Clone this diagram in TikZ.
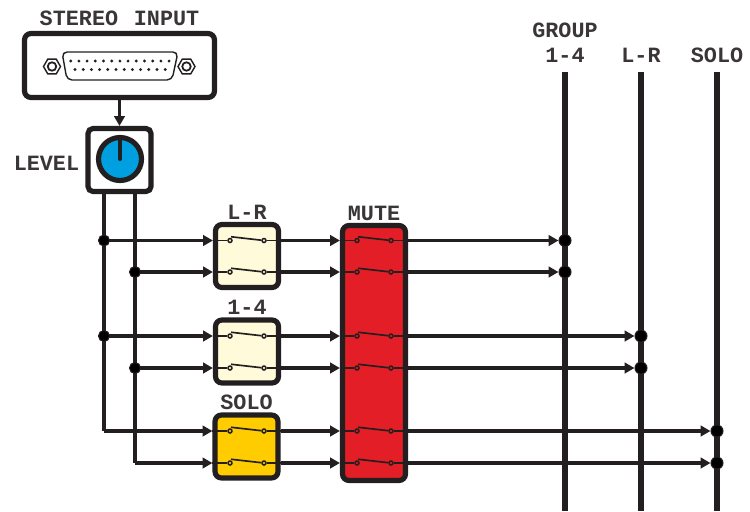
\documentclass[tikz,border=0pt]{standalone}
\usepackage{fontspec}
\setmonofont{Liberation Mono}
\usetikzlibrary{positioning, shapes.geometric, arrows.meta}
\definecolor{mxink}{HTML}{231F20}
\definecolor{mxgray}{HTML}{3A3637}
\definecolor{mxred}{HTML}{E31E26}
\definecolor{mxcream}{HTML}{FFFAD9}
\definecolor{mxyellow}{HTML}{FFCC00}
\definecolor{mxblue}{HTML}{00A0E0}
\tikzset{
  panel/.style={draw=mxink, line width=2.95pt, rounded corners=0.13cm, inner sep=0pt,
    minimum width=1.26cm, minimum height=1.26cm},
  wire/.style={draw=mxink, line width=2.15pt},
  feed/.style={wire, -{Triangle[length=5.6pt,width=6pt]}},
  thin wire/.style={draw=mxink, line width=0.95pt},
  bus/.style={draw=mxink, line width=2.95pt},
  junction/.style={circle, fill=black, draw=mxink, line width=0.6pt, inner sep=0pt, minimum size=0.24cm},
  contact/.style={circle, draw=mxink, fill=none, line width=0.85pt, inner sep=0pt, minimum size=0.08cm},
  tag/.style={font=\ttfamily\bfseries\fontsize{12.4}{14}\selectfont, text=mxgray, inner sep=0pt},
  pin/.style={fill=mxink}
}
\begin{document}
\begin{tikzpicture}[x=0.02cm, y=-0.02cm]
    \useasboundingbox (0,0) rectangle (750,511);
    % input and level
    \node[panel, minimum width=3.8cm, minimum height=1.28cm] (stereo) at (119.5,65.5) {};
    \node[tag] (stereolabel) at (119.5,18.5) {STEREO\hspace{1.5pt} INPUT};
    \node[panel, rounded corners=0.1cm] (level) at (119.5,160) {};
    \node[tag, anchor=east] (levellabel) at (79.5,163.5) {LEVEL};
    \node[circle, draw=mxink, fill=mxblue, line width=2.95pt, inner sep=0pt, minimum size=0.86cm] (knob) at (120,159) {};
    \draw[draw=mxink, line width=2.3pt, line cap=round, shorten >=2.5pt] (knob.center) -- (knob.north);
    \draw[feed] (stereo.south) -- (level.north);
    % connector on the input panel
    \draw[mxink, line width=0.8pt, rounded corners=0.1cm]
      (62,52) -- (178,52) -- (172,80) -- (67,80) -- cycle;
    \foreach \i in {0,...,12} \fill[pin] (70.7+8.2*\i,61) circle (1.6);
    \foreach \i in {0,...,11} \fill[pin] (75+8.2*\i,69.5) circle (1.6);
    \foreach \nx [count=\n] in {52,186.5} {
      \node[regular polygon, regular polygon sides=6, draw=mxink, line width=0.8pt, inner sep=0pt, minimum size=0.34cm] (nut\n) at (\nx,66.5) {};
      \node[circle, draw=mxink, line width=1pt, inner sep=0pt, minimum size=0.17cm] (nuthole\n) at (\nx,66.5) {};
    }
    % switch blocks
    \node[panel, fill=mxcream] (lrsw) at (247,256) {};
    \node[panel, fill=mxcream] (grpsw) at (247,351.5) {};
    \node[panel, fill=mxyellow] (solosw) at (246.5,446.5) {};
    \node[panel, fill=mxred, minimum height=5.1cm] (mutesw) at (374,353) {};
    \node[tag, above=1.4pt of lrsw] (lrlabel) {L-R};
    \node[tag, above=1.4pt of grpsw] (grplabel) {1-4};
    \node[tag, above=1.2pt of solosw] (sololabel) {SOLO};
    \node[tag, above=0.9pt of mutesw] (mutelabel) {MUTE};
    % buses
    \coordinate (grpbus) at (565,72);
    \coordinate (lrbus) at (641,72);
    \coordinate (solobus) at (717,72);
    \foreach \b in {grpbus,lrbus,solobus} \draw[bus] (\b) -- (\b |- 0,511);
    \node[tag, above=5pt of grpbus] (grpbustext) {1-4};
    \node[tag, above=5.9pt of grpbustext] (grouptext) {GROUP};
    \node[tag, above=5pt of lrbus] (lrbustext) {L-R};
    \node[tag, above=5pt of solobus] (solobustext) {SOLO};
    % one stereo pair per block
    \foreach \sy/\lx/\bx/\sw [count=\r] in {240.5/104/565/lrsw, 272/135/565/lrsw, 336/104/641/grpsw,
        368/135/641/grpsw, 431/104/717/solosw, 463/135/717/solosw} {
      \coordinate (s\r) at (\lx,\sy);
      \node[contact] (a\r) at (230,\sy) {};
      \node[contact] (b\r) at (264,\sy) {};
      \node[contact] (c\r) at (357,\sy) {};
      \node[contact] (d\r) at (391,\sy) {};
      \node[junction] (e\r) at (\bx,\sy) {};
      \draw[feed] (s\r) -- (s\r -| \sw.west);
      \draw[thin wire] (a\r -| \sw.west) -- (a\r);
      \draw[thin wire] (b\r) -- (b\r -| \sw.east);
      \draw[thin wire] (a\r.north) ++(1,-1) -- (b\r);
      \draw[feed] (b\r -| \sw.east) -- (b\r -| mutesw.west);
      \draw[thin wire] (c\r -| mutesw.west) -- (c\r);
      \draw[thin wire] (d\r) -- (d\r -| mutesw.east);
      \draw[thin wire] (c\r.north) ++(1,-1) -- (d\r);
      \draw[feed] (d\r -| mutesw.east) -- (e\r);
    }
    % taps from the level control
    \draw[wire] (level.south -| s5) -- (s5);
    \draw[wire] (level.south -| s6) -- (s6);
    \foreach \r in {1,...,4} \node[junction, minimum size=0.22cm] (j\r) at (s\r) {};
\end{tikzpicture}
\end{document}
